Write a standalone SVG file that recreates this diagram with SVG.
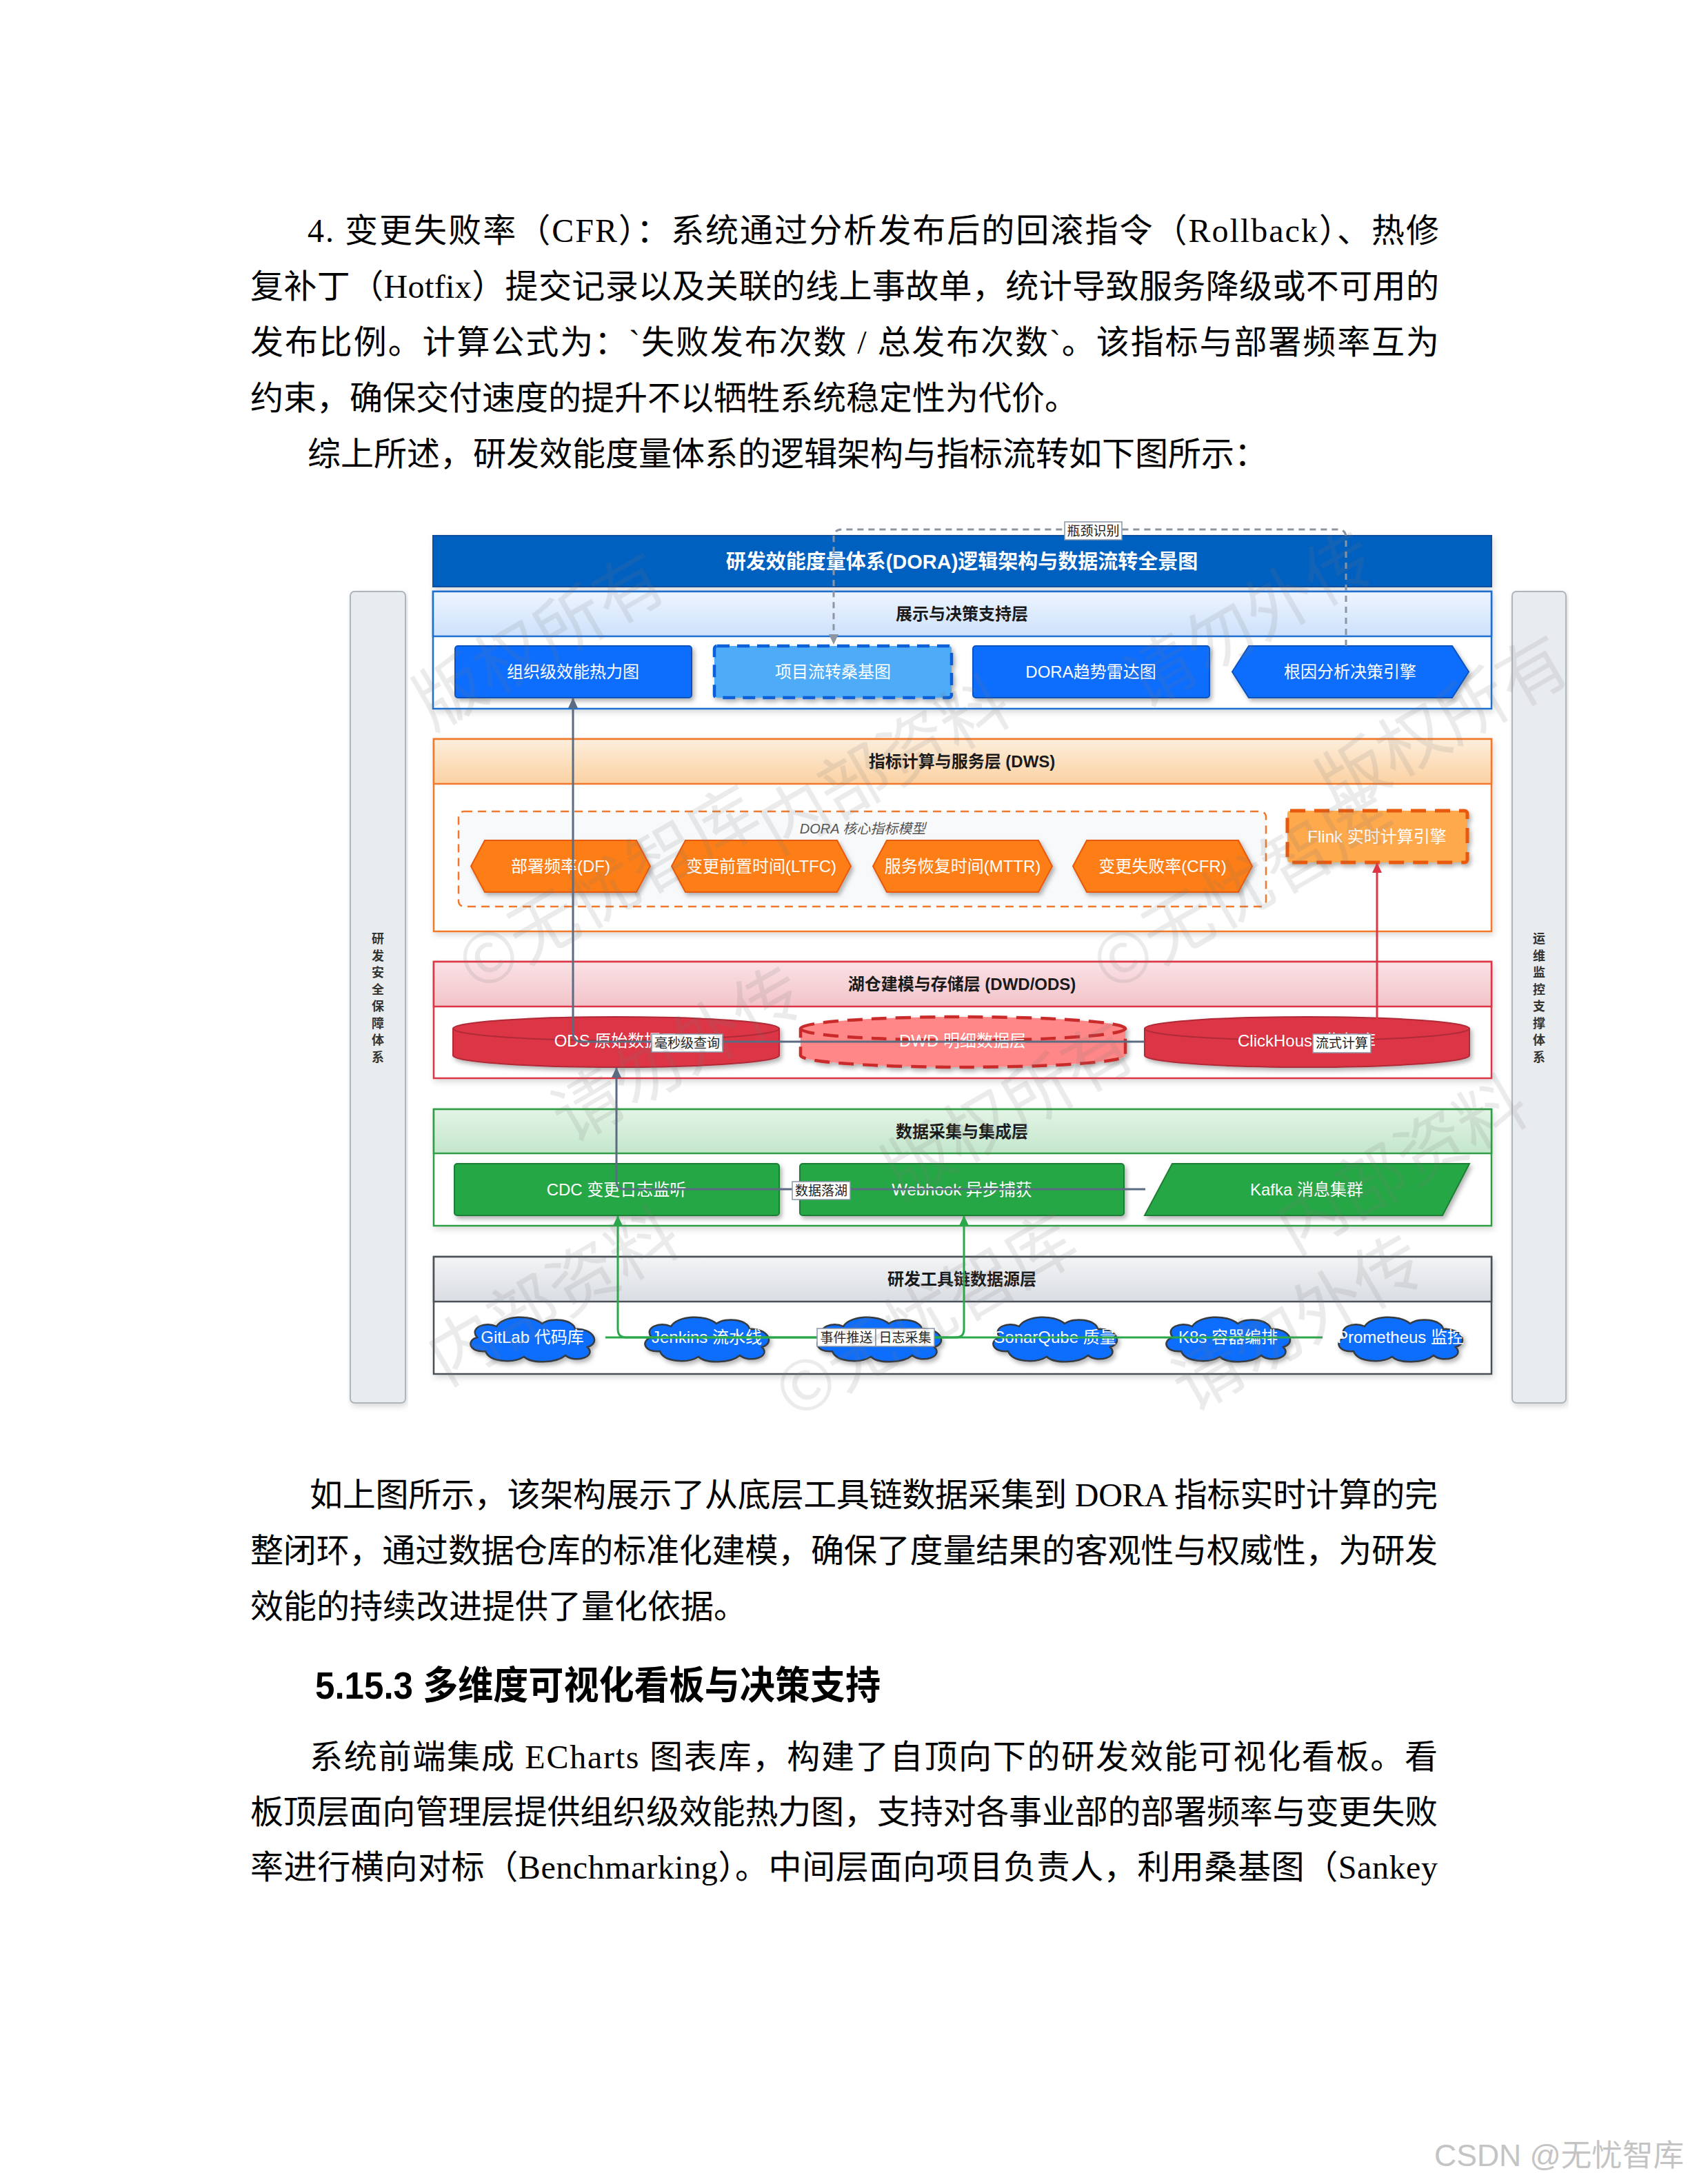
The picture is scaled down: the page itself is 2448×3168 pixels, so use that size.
<svg xmlns="http://www.w3.org/2000/svg" width="2448" height="3168" viewBox="0 0 2448 3168">
<style>
.body{font-family:"Liberation Serif","Noto Sans CJK SC",serif;font-size:48px;fill:#000}
.h{font-family:"Liberation Sans","Noto Sans CJK SC",sans-serif;font-size:56px;font-weight:bold;fill:#000}
.sans{font-family:"Liberation Sans","Noto Sans CJK SC",sans-serif}
.nt{font-family:"Liberation Sans","Noto Sans CJK SC",sans-serif;font-size:24px;fill:#fff;text-anchor:middle}
.lt{font-family:"Liberation Sans","Noto Sans CJK SC",sans-serif;font-size:24px;font-weight:bold;fill:#1a1a1a;text-anchor:middle}
.el{font-family:"Liberation Sans","Noto Sans CJK SC",sans-serif;font-size:19px;fill:#222;text-anchor:middle}
.elb{fill:#fff;stroke:#8a94a6;stroke-width:1.5}
.side{font-family:"Liberation Sans","Noto Sans CJK SC",sans-serif;font-size:18px;font-weight:bold;fill:#333;text-anchor:middle}
.wm{font-family:"Noto Sans CJK SC",sans-serif;font-size:100px;fill:#777;opacity:.15;text-anchor:middle}
.blue{fill:#0d6efd;stroke:#0a53be;stroke-width:2}
.hex{fill:#fd7e14;stroke:#e8590c;stroke-width:2}
.cyl{fill:#dc3545;stroke:#b02a37;stroke-width:2}
.grn{fill:#28a745;stroke:#1e7e34;stroke-width:2}
.cloud{fill:#0d6efd;stroke:#343a40;stroke-width:2.5}
.con{fill:none;stroke-width:3}
</style>
<defs>
<filter id="sh" x="-10%" y="-20%" width="120%" height="150%"><feDropShadow dx="3" dy="4" stdDeviation="3" flood-color="#000" flood-opacity="0.3"/></filter>
<filter id="lsh" x="-5%" y="-10%" width="110%" height="125%"><feDropShadow dx="2" dy="4" stdDeviation="4" flood-color="#000" flood-opacity="0.15"/></filter>
<linearGradient id="gBlue" x1="0" y1="0" x2="0" y2="1"><stop offset="0" stop-color="#eef5ff"/><stop offset="1" stop-color="#cde1fb"/></linearGradient>
<linearGradient id="gOra" x1="0" y1="0" x2="0" y2="1"><stop offset="0" stop-color="#fdeedc"/><stop offset="1" stop-color="#fbd1a2"/></linearGradient>
<linearGradient id="gRed" x1="0" y1="0" x2="0" y2="1"><stop offset="0" stop-color="#fae2e5"/><stop offset="1" stop-color="#f2c3c9"/></linearGradient>
<linearGradient id="gGrn" x1="0" y1="0" x2="0" y2="1"><stop offset="0" stop-color="#e3f4e6"/><stop offset="1" stop-color="#c3e6cb"/></linearGradient>
<linearGradient id="gGry" x1="0" y1="0" x2="0" y2="1"><stop offset="0" stop-color="#f3f4f6"/><stop offset="1" stop-color="#d9dde2"/></linearGradient>
<marker id="aGray" markerUnits="userSpaceOnUse" markerWidth="16" markerHeight="14" refX="14" refY="7" orient="auto"><path d="M0,0 L15,7 L0,14 z" fill="#5b6b82"/></marker>
<marker id="aDash" markerUnits="userSpaceOnUse" markerWidth="16" markerHeight="14" refX="14" refY="7" orient="auto"><path d="M0,0 L15,7 L0,14 z" fill="#8c96a3"/></marker>
<marker id="aRed" markerUnits="userSpaceOnUse" markerWidth="16" markerHeight="14" refX="14" refY="7" orient="auto"><path d="M0,0 L15,7 L0,14 z" fill="#dc3545"/></marker>
<marker id="aGrn" markerUnits="userSpaceOnUse" markerWidth="16" markerHeight="14" refX="14" refY="7" orient="auto"><path d="M0,0 L15,7 L0,14 z" fill="#2ba84a"/></marker>
<path id="cloudShape" d="M30,52 C6,54 2,36 18,32 C6,18 30,8 46,16 C56,0 96,-2 112,12 C126,2 158,6 160,20 C186,18 198,40 178,46 C192,60 160,70 146,58 C132,70 96,70 86,60 C70,70 36,68 30,52 Z"/>
</defs>
<rect width="2448" height="3168" fill="#fff"/>

<!-- document text -->
<g id="text-top">
<text class="body" x="446" y="351" textLength="1641" lengthAdjust="spacing">4. 变更失败率（CFR）：系统通过分析发布后的回滚指令（Rollback）、热修</text>
<text class="body" x="363" y="432" textLength="1724" lengthAdjust="spacing">复补丁（Hotfix）提交记录以及关联的线上事故单，统计导致服务降级或不可用的</text>
<text class="body" x="363" y="513" textLength="1724" lengthAdjust="spacing">发布比例。计算公式为：`失败发布次数 / 总发布次数`。该指标与部署频率互为</text>
<text class="body" x="363" y="594">约束，确保交付速度的提升不以牺牲系统稳定性为代价。</text>
<text class="body" x="446" y="675">综上所述，研发效能度量体系的逻辑架构与指标流转如下图所示：</text>
</g>

<!-- side bars -->
<g id="side-left">
<rect x="508" y="858" width="80" height="1177" rx="6" fill="#e9ecef" stroke="#adb5bd" stroke-width="2" filter="url(#lsh)"/>
<text class="side"><tspan x="548" y="1368">研</tspan><tspan x="548" dy="24.5">发</tspan><tspan x="548" dy="24.5">安</tspan><tspan x="548" dy="24.5">全</tspan><tspan x="548" dy="24.5">保</tspan><tspan x="548" dy="24.5">障</tspan><tspan x="548" dy="24.5">体</tspan><tspan x="548" dy="24.5">系</tspan></text>
</g>
<g id="side-right">
<rect x="2193" y="858" width="78" height="1177" rx="6" fill="#e9ecef" stroke="#adb5bd" stroke-width="2" filter="url(#lsh)"/>
<text class="side"><tspan x="2232" y="1368">运</tspan><tspan x="2232" dy="24.5">维</tspan><tspan x="2232" dy="24.5">监</tspan><tspan x="2232" dy="24.5">控</tspan><tspan x="2232" dy="24.5">支</tspan><tspan x="2232" dy="24.5">撑</tspan><tspan x="2232" dy="24.5">体</tspan><tspan x="2232" dy="24.5">系</tspan></text>
</g>

<!-- title -->
<g id="title">
<rect x="628" y="777" width="1535" height="74" fill="#0060c0" stroke="#0a4f9e" stroke-width="2" filter="url(#lsh)"/>
<text class="sans" x="1395" y="825" font-size="29" font-weight="bold" fill="#fff" text-anchor="middle">研发效能度量体系(DORA)逻辑架构与数据流转全景图</text>
</g>

<!-- layer 1 -->
<g id="layer-display">
<rect x="628" y="858" width="1535" height="170" fill="#fff" stroke="#1f6fd1" stroke-width="2.5" filter="url(#lsh)"/>
<rect x="628" y="858" width="1535" height="65" fill="url(#gBlue)" stroke="#1f6fd1" stroke-width="2.5"/>
<text class="lt" x="1395" y="899">展示与决策支持层</text>
</g>
<g id="n-heatmap"><rect class="blue" x="660" y="937" width="343" height="75" rx="4" filter="url(#sh)"/><text class="nt" x="831" y="983">组织级效能热力图</text></g>
<g id="n-sankey"><rect x="1036" y="937" width="344" height="75" rx="4" fill="#4dabf7" stroke="#0b5ed7" stroke-width="4.5" stroke-dasharray="18 11" filter="url(#sh)"/><text class="nt" x="1208" y="983">项目流转桑基图</text></g>
<g id="n-radar"><rect class="blue" x="1411" y="937" width="343" height="75" rx="4" filter="url(#sh)"/><text class="nt" x="1582" y="983">DORA趋势雷达图</text></g>
<g id="n-rca"><polygon class="blue" points="1811,937 2106,937 2130,974.5 2106,1012 1811,1012 1787,974.5" filter="url(#sh)"/><text class="nt" x="1958" y="983">根因分析决策引擎</text></g>

<!-- layer 2 DWS -->
<g id="layer-dws">
<rect x="629" y="1072" width="1534" height="279" fill="#fff" stroke="#f2792b" stroke-width="2.5" filter="url(#lsh)"/>
<rect x="629" y="1072" width="1534" height="65" fill="url(#gOra)" stroke="#f2792b" stroke-width="2.5"/>
<text class="lt" x="1395" y="1113">指标计算与服务层 (DWS)</text>
</g>
<g id="g-dora">
<rect x="665" y="1177" width="1171" height="138" rx="8" fill="#f8f9fb" stroke="#f2792b" stroke-width="2.5" stroke-dasharray="12 8"/>
<text class="sans" x="1251" y="1209" font-size="20" font-style="italic" fill="#555" text-anchor="middle">DORA 核心指标模型</text>
</g>
<g id="n-df"><polygon class="hex" points="703,1219 923,1219 943,1256.5 923,1294 703,1294 683,1256.5" filter="url(#sh)"/><text class="nt" x="813" y="1265">部署频率(DF)</text></g>
<g id="n-ltfc"><polygon class="hex" points="994,1219 1214,1219 1234,1256.5 1214,1294 994,1294 974,1256.5" filter="url(#sh)"/><text class="nt" x="1104" y="1265">变更前置时间(LTFC)</text></g>
<g id="n-mttr"><polygon class="hex" points="1286,1219 1506,1219 1526,1256.5 1506,1294 1286,1294 1266,1256.5" filter="url(#sh)"/><text class="nt" x="1396" y="1265">服务恢复时间(MTTR)</text></g>
<g id="n-cfr"><polygon class="hex" points="1576,1219 1796,1219 1816,1256.5 1796,1294 1576,1294 1556,1256.5" filter="url(#sh)"/><text class="nt" x="1686" y="1265">变更失败率(CFR)</text></g>
<g id="n-flink"><rect x="1867" y="1176" width="261" height="75" rx="4" fill="#ffa94d" stroke="#e8590c" stroke-width="5" stroke-dasharray="22 13" filter="url(#sh)"/><text class="nt" x="1997" y="1222">Flink 实时计算引擎</text></g>

<!-- layer 3 DWD/ODS -->
<g id="layer-dwd">
<rect x="629" y="1395" width="1534" height="169" fill="#fff" stroke="#dc3545" stroke-width="2.5" filter="url(#lsh)"/>
<rect x="629" y="1395" width="1534" height="65" fill="url(#gRed)" stroke="#dc3545" stroke-width="2.5"/>
<text class="lt" x="1395" y="1436">湖仓建模与存储层 (DWD/ODS)</text>
</g>
<g id="n-ods"><path class="cyl" d="M657,1492 A236.5,17 0 0 1 1130,1492 V1531 A236.5,17 0 0 1 657,1531 Z" filter="url(#sh)"/><path d="M657,1492 A236.5,17 0 0 0 1130,1492" fill="none" stroke="#b02a37" stroke-width="2"/><text class="nt" x="893" y="1518">ODS 原始数据层</text></g>
<g id="n-dwd"><path d="M1161,1492 A235.5,17 0 0 1 1632,1492 V1531 A235.5,17 0 0 1 1161,1531 Z" fill="#ff8787" stroke="#c92a2a" stroke-width="4.5" stroke-dasharray="22 13" filter="url(#sh)"/><path d="M1161,1492 A235.5,17 0 0 0 1632,1492" fill="none" stroke="#c92a2a" stroke-width="4.5" stroke-dasharray="22 13"/><text class="nt" x="1396" y="1518">DWD 明细数据层</text></g>
<g id="n-ck"><path class="cyl" d="M1660,1492 A235.5,17 0 0 1 2131,1492 V1531 A235.5,17 0 0 1 1660,1531 Z" filter="url(#sh)"/><path d="M1660,1492 A235.5,17 0 0 0 2131,1492" fill="none" stroke="#b02a37" stroke-width="2"/><text class="nt" x="1895" y="1518">ClickHouse 指标库</text></g>

<!-- layer 4 collection -->
<g id="layer-collect">
<rect x="629" y="1609" width="1534" height="169" fill="#fff" stroke="#2f9e44" stroke-width="2.5" filter="url(#lsh)"/>
<rect x="629" y="1609" width="1534" height="64" fill="url(#gGrn)" stroke="#2f9e44" stroke-width="2.5"/>
<text class="lt" x="1395" y="1650">数据采集与集成层</text>
</g>
<g id="n-cdc"><rect class="grn" x="659" y="1688" width="471" height="75" rx="4" filter="url(#sh)"/><text class="nt" x="894" y="1734">CDC 变更日志监听</text></g>
<g id="n-webhook"><rect class="grn" x="1160" y="1688" width="470" height="75" rx="4" filter="url(#sh)"/><text class="nt" x="1395" y="1734">Webhook 异步捕获</text></g>
<g id="n-kafka"><polygon class="grn" points="1700,1688 2131,1688 2092,1763 1660,1763" filter="url(#sh)"/><text class="nt" x="1895" y="1734">Kafka 消息集群</text></g>

<!-- layer 5 tools -->
<g id="layer-tools">
<rect x="629" y="1823" width="1534" height="170" fill="#fff" stroke="#495057" stroke-width="2.5" filter="url(#lsh)"/>
<rect x="629" y="1823" width="1534" height="65" fill="url(#gGry)" stroke="#495057" stroke-width="2.5"/>
<text class="lt" x="1395" y="1864">研发工具链数据源层</text>
</g>
<g id="n-gitlab"><use href="#cloudShape" class="cloud" transform="translate(674,1908)" filter="url(#sh)"/><text class="nt" x="772" y="1948">GitLab 代码库</text></g>
<g id="n-jenkins"><use href="#cloudShape" class="cloud" transform="translate(927,1908)" filter="url(#sh)"/><text class="nt" x="1025" y="1948">Jenkins 流水线</text></g>
<g id="n-tool3"><use href="#cloudShape" class="cloud" transform="translate(1177,1908)" filter="url(#sh)"/></g>
<g id="n-sonar"><use href="#cloudShape" class="cloud" transform="translate(1432,1908)" filter="url(#sh)"/><text class="nt" x="1530" y="1948">SonarQube 质量</text></g>
<g id="n-k8s"><use href="#cloudShape" class="cloud" transform="translate(1683,1908)" filter="url(#sh)"/><text class="nt" x="1781" y="1948">K8s 容器编排</text></g>
<g id="n-prom"><use href="#cloudShape" class="cloud" transform="translate(1933,1908)" filter="url(#sh)"/><text class="nt" x="2031" y="1948">Prometheus 监控</text></g>

<!-- connectors -->
<g id="connectors">
<path class="con" d="M1952,937 V780 Q1952,768 1940,768 H1221 Q1209,768 1209,780 V934" stroke="#8c96a3" stroke-width="2.5" stroke-dasharray="9 7" marker-end="url(#aDash)"/>
<path class="con" d="M1660,1511 H843 Q831,1511 831,1499 V1013" stroke="#5b6b82" marker-end="url(#aGray)"/>
<path class="con" d="M1661,1725 H906 Q894,1725 894,1713 V1549" stroke="#5b6b82" marker-end="url(#aGray)"/>
<path class="con" d="M1997,1478 V1252" stroke="#dc3545" marker-end="url(#aRed)"/>
<path class="con" d="M878,1940 H1386 Q1398,1940 1398,1928 V1764" stroke="#2ba84a" marker-end="url(#aGrn)"/>
<path class="con" d="M1918,1940 H908 Q896,1940 896,1928 V1764" stroke="#2ba84a" marker-end="url(#aGrn)"/>
<rect class="elb" x="1544" y="757" width="83" height="26"/><text class="el" x="1585.5" y="777">瓶颈识别</text>
<rect class="elb" x="945" y="1500" width="103" height="26"/><text class="el" x="996.5" y="1520">毫秒级查询</text>
<rect class="elb" x="1904" y="1500" width="84" height="27"/><text class="el" x="1946" y="1520">流式计算</text>
<rect class="elb" x="1149" y="1714" width="84" height="26"/><text class="el" x="1191" y="1734">数据落湖</text>
<rect class="elb" x="1185" y="1927" width="85" height="26"/><text class="el" x="1227.5" y="1947">事件推送</text>
<rect class="elb" x="1270" y="1927" width="85" height="26"/><text class="el" x="1312.5" y="1947">日志采集</text>
</g>

<!-- watermark -->
<g id="watermark" class="wm">
<text transform="translate(800,960) rotate(-30)">版权所有</text>
<text transform="translate(1300,1140) rotate(-30)">内部资料</text>
<text transform="translate(1830,930) rotate(-30)">请勿外传</text>
<text transform="translate(2110,1080) rotate(-30)">版权所有</text>
<text transform="translate(900,1320) rotate(-30)">©无忧智库</text>
<text transform="translate(1820,1320) rotate(-30)">©无忧智库</text>
<text transform="translate(1000,1560) rotate(-30)">请勿外传</text>
<text transform="translate(1480,1640) rotate(-30)">版权所有</text>
<text transform="translate(2050,1720) rotate(-30)">内部资料</text>
<text transform="translate(820,1910) rotate(-30)">内部资料</text>
<text transform="translate(1360,1940) rotate(-30)">©无忧智库</text>
<text transform="translate(1900,1950) rotate(-30)">请勿外传</text>
</g>

<g id="text-bottom">
<text class="body" x="449" y="2185" textLength="1636" lengthAdjust="spacing">如上图所示，该架构展示了从底层工具链数据采集到 DORA 指标实时计算的完</text>
<text class="body" x="363" y="2266" textLength="1722" lengthAdjust="spacing">整闭环，通过数据仓库的标准化建模，确保了度量结果的客观性与权威性，为研发</text>
<text class="body" x="363" y="2347">效能的持续改进提供了量化依据。</text>
<text class="h" x="457" y="2464" textLength="820" lengthAdjust="spacingAndGlyphs">5.15.3 多维度可视化看板与决策支持</text>
<text class="body" x="449" y="2565" textLength="1636" lengthAdjust="spacing">系统前端集成 ECharts 图表库，构建了自顶向下的研发效能可视化看板。看</text>
<text class="body" x="363" y="2645" textLength="1722" lengthAdjust="spacing">板顶层面向管理层提供组织级效能热力图，支持对各事业部的部署频率与变更失败</text>
<text class="body" x="363" y="2725" textLength="1722" lengthAdjust="spacing">率进行横向对标（Benchmarking）。中间层面向项目负责人，利用桑基图（Sankey</text>
<text class="sans" x="2080" y="3142" font-size="44" fill="#c4c4c4" textLength="362" lengthAdjust="spacingAndGlyphs">CSDN @无忧智库</text>
</g>
</svg>
